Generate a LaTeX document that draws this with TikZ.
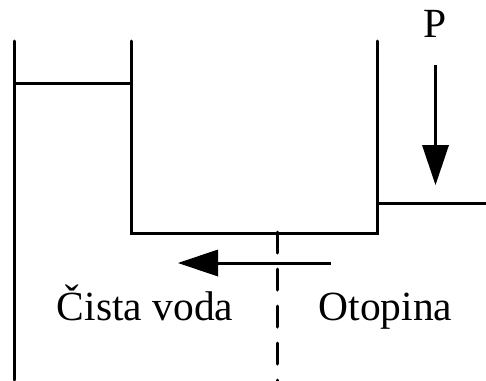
\documentclass[tikz,border=0pt]{standalone}
\usepackage{fontspec}
\setmainfont{Liberation Serif}
\usetikzlibrary{arrows.meta}
\tikzset{
  wall/.style={line width=3pt,line cap=round,line join=miter,black},
  level/.style={line width=3pt,black},
  flow/.style={line width=3pt,black,-{Triangle[length=40pt,width=27pt,line width=0pt]}},
  axis/.style={line width=3pt,black,line cap=round,dash pattern=on 21pt off 16pt},
  lbl/.style={inner sep=0pt,font=\fontsize{41.5}{41.5}\selectfont,anchor=base}
}
\begin{document}
\begin{tikzpicture}[x=1pt,y=-1pt]
\useasboundingbox (0,0) rectangle (486,380);
\fill[white] (0,0) rectangle (486,380);
% walls
\coordinate (ltop) at (14,41);
\coordinate (lbot) at (14,380);
\coordinate (mtop) at (131,41);
\coordinate (mbot) at (131,233);
\coordinate (rtop) at (377,41);
\coordinate (rbot) at (377,233);
\coordinate (llevelL) at (14,83);
\coordinate (llevelR) at (131,83);
\coordinate (rlevelL) at (377,203);
\coordinate (rlevelR) at (486,203);
\coordinate (axtop) at (277.5,232);
\coordinate (axbot) at (277.5,381);
\coordinate (fstart) at (331,263);
\coordinate (fend) at (178,263);
\coordinate (pstart) at (435.5,65);
\coordinate (pend) at (435.5,185);
\draw[wall] (ltop) -- (lbot);
\draw[wall] (mtop) -- (mbot) -- (rbot) -- (rtop);
\draw[level] (llevelL) -- (llevelR);
\draw[level] (rlevelL) -- (rlevelR);
\draw[axis] (axtop) -- (axbot);
\draw[flow] (fstart) -- (fend);
\draw[flow] (pstart) -- (pend);
\node[lbl] (p) at (435,37) {P};
\node[lbl] (cista) at (145,320) {Čista voda};
\node[lbl] (otopina) at (385.5,320) {Otopina};
\end{tikzpicture}
\end{document}
